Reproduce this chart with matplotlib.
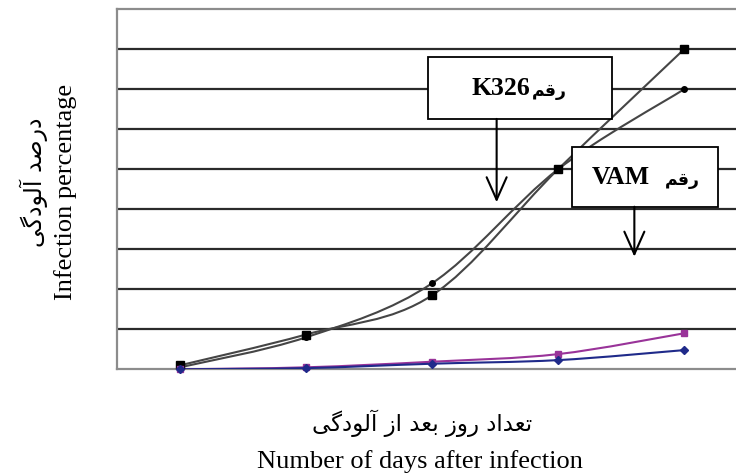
import numpy as np
import matplotlib
matplotlib.use("Agg")
import matplotlib.pyplot as plt
from matplotlib.path import Path
from matplotlib.patches import PathPatch, Rectangle


# category positions (no tick labels in the original chart)
days = [1, 2, 3, 4, 5]

# black curves (K326)
k326_square = [1, 8.7, 18.5, 50, 80]
k326_dot = [0.5, 8, 21.5, 50, 70]

# low curves (VAM)
vam_purple = [0, 0.5, 1.9, 3.8, 9]
vam_blue = [0, 0.3, 1.4, 2.3, 4.8]

xlabel_fa = "تعداد روز بعد از آلودگی"
xlabel_en = "Number of days after infection"
ylabel_fa = "درصد آلودگی"
ylabel_en = "Infection percentage"
tag_fa = "رقم"

# isolated, final, initial, medial presentation forms
FORMS = {
    "\u0622": ("\uFE81", "\uFE82", None, None),
    "\u0627": ("\uFE8D", "\uFE8E", None, None),
    "\u0628": ("\uFE8F", "\uFE90", "\uFE91", "\uFE92"),
    "\u062A": ("\uFE95", "\uFE96", "\uFE97", "\uFE98"),
    "\u062F": ("\uFEA9", "\uFEAA", None, None),
    "\u0631": ("\uFEAD", "\uFEAE", None, None),
    "\u0632": ("\uFEAF", "\uFEB0", None, None),
    "\u0635": ("\uFEB9", "\uFEBA", "\uFEBB", "\uFEBC"),
    "\u0639": ("\uFEC9", "\uFECA", "\uFECB", "\uFECC"),
    "\u0642": ("\uFED5", "\uFED6", "\uFED7", "\uFED8"),
    "\u0644": ("\uFEDD", "\uFEDE", "\uFEDF", "\uFEE0"),
    "\u0645": ("\uFEE1", "\uFEE2", "\uFEE3", "\uFEE4"),
    "\u0648": ("\uFEED", "\uFEEE", None, None),
    "\u06AF": ("\uFB92", "\uFB93", "\uFB94", "\uFB95"),
    "\u06CC": ("\uFBFC", "\uFBFD", "\uFBFE", "\uFBFF"),
}


def shape_fa(text):
    # join letters and put them in visual (left to right) order
    out = []
    for i, ch in enumerate(text):
        forms = FORMS.get(ch)
        if forms is None:
            out.append(ch)
            continue
        prev = text[i - 1] if i > 0 else ""
        nxt = text[i + 1] if i + 1 < len(text) else ""
        join_prev = prev in FORMS and FORMS[prev][2] is not None
        join_next = forms[2] is not None and nxt in FORMS
        if join_prev and join_next:
            out.append(forms[3])
        elif join_prev:
            out.append(forms[1])
        elif join_next:
            out.append(forms[2])
        else:
            out.append(forms[0])
    return "".join(reversed(out))


def smooth_line(ax, xs, ys, color, lw):
    # Excel-like smoothed line: cubic bezier through every point
    pts = np.column_stack([xs, ys]).astype(float)
    n = len(pts)
    verts = [pts[0]]
    codes = [Path.MOVETO]
    for i in range(n - 1):
        p0 = pts[max(i - 1, 0)]
        p1 = pts[i]
        p2 = pts[i + 1]
        p3 = pts[min(i + 2, n - 1)]
        verts += [p1 + (p2 - p0) / 6, p2 - (p3 - p1) / 6, p2]
        codes += [Path.CURVE4] * 3
    ax.add_patch(PathPatch(Path(verts, codes), fill=False, edgecolor=color,
                           lw=lw, zorder=3, capstyle="round"))


fig = plt.figure(figsize=(7.36, 4.73), dpi=100)
# plot area runs a little past the right edge of the picture (cropped)
ax = fig.add_axes([117 / 736, 0.2192, 630 / 736, 0.7611])

ax.set_xlim(0.5, 5.5)
ax.set_ylim(0, 90)
ax.set_yticks(np.arange(10, 90, 10))
ax.set_xticks([])
ax.tick_params(left=False, labelleft=False)
ax.grid(axis="y", color="#2b2b2b", lw=1.6, zorder=1)
for side in ["left", "top", "bottom"]:
    ax.spines[side].set_color("#8c8c8c")
    ax.spines[side].set_linewidth(1.6)
ax.spines["right"].set_visible(False)

series = [
    (k326_square, "#454545", "s", 6, "black"),
    (k326_dot, "#454545", "o", 4, "black"),
    (vam_purple, "#993399", "s", 4.5, "#993399"),
    (vam_blue, "#1f2a8a", "D", 4, "#1f2a8a"),
]
for ys, lc, mk, ms, mc in series:
    smooth_line(ax, days, ys, lc, 1.5)
    ax.plot(days, ys, linestyle="none", marker=mk, ms=ms, color=mc, zorder=4,
            clip_on=False)

# labelled boxes with arrows; latin part and persian part drawn side by side
boxes = [
    ((2.971, 62.6), 1.460, 15.4, "K326", 7, 8.2, 3.513, 41.75),
    ((4.113, 40.65), 1.159, 14.85, "VAM", 3.6, 14.2, 4.606, 28.15),
]
for (bx, by), bw, bh, latin, lshift, fshift, ax_x, ay in boxes:
    ax.add_patch(Rectangle((bx, by), bw, bh, facecolor="white",
                           edgecolor="black", lw=1.3, zorder=5))
    mid = (bx + bw / 2, by + bh / 2)
    ax.annotate(latin, xy=mid, xytext=(lshift, 0), textcoords="offset points",
                ha="right", va="center", fontsize=18.5, fontweight="bold",
                family="Liberation Serif", zorder=6)
    ax.annotate(shape_fa(tag_fa), xy=mid, xytext=(fshift, -2),
                textcoords="offset points", ha="left", va="center",
                fontsize=12.5, fontweight="bold", family="DejaVu Sans",
                zorder=6)
    ax.annotate("", xy=(ax_x, ay), xytext=(ax_x, by),
                arrowprops=dict(arrowstyle="->,head_length=0.9,head_width=0.4",
                                color="black", lw=1.5, mutation_scale=18,
                                shrinkA=0, shrinkB=0),
                zorder=6)

fig.text(0.573, 1 - 423 / 473, shape_fa(xlabel_fa), ha="center", va="center",
         fontsize=16.5, family="DejaVu Sans")
fig.text(0.571, 1 - 462 / 473, xlabel_en, ha="center", va="center",
         fontsize=19, family="Liberation Serif")
fig.text(34 / 736, 1 - 182 / 473, shape_fa(ylabel_fa), ha="center",
         va="center", rotation=90, fontsize=17, family="DejaVu Sans")
fig.text(66 / 736, 1 - 192 / 473, ylabel_en, ha="center", va="center",
         rotation=90, fontsize=19, family="Liberation Serif")

fig.savefig("out.png", dpi=100)
